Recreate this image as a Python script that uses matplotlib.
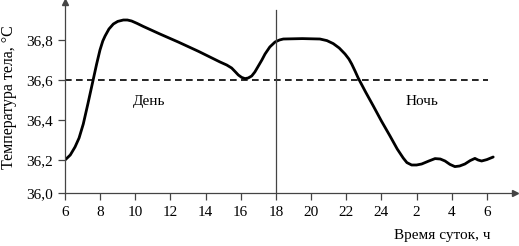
import matplotlib
matplotlib.use('Agg')
import matplotlib.pyplot as plt

# hours counted continuously from 6 am (6 ... 30 = 6 am next day)
hours = [6.0, 6.3, 6.57, 6.8, 7.04, 7.3, 7.6, 7.8, 7.99, 8.15, 8.28, 8.5, 8.75, 9.0,
         9.32, 9.55, 9.79, 10.1, 10.45, 11.4, 12.44, 13.6, 14.82, 15.2, 15.48, 15.7,
         15.86, 16.05, 16.24, 16.42, 16.62, 16.8, 17.0, 17.2, 17.38, 17.65, 17.95,
         18.2, 18.42, 19.5, 20.5, 20.9, 21.26, 21.6, 21.93, 22.15, 22.31, 22.5, 22.68,
         23.1, 23.54, 24.0, 24.49, 24.9, 25.24, 25.45, 25.72, 26.0, 26.29, 26.7, 27.05,
         27.35, 27.62, 27.9, 28.18, 28.45, 28.75, 29.05, 29.32, 29.5, 29.7, 30.0, 30.36]
temps = [36.2, 36.225, 36.265, 36.31, 36.38, 36.48, 36.6, 36.68, 36.75, 36.795, 36.82,
         36.855, 36.88, 36.893, 36.9, 36.9, 36.895, 36.883, 36.868, 36.83, 36.79, 36.743,
         36.69, 36.675, 36.66, 36.64, 36.625, 36.613, 36.607, 36.61, 36.62, 36.64, 36.67,
         36.7, 36.73, 36.765, 36.79, 36.8, 36.805, 36.807, 36.805, 36.797, 36.782, 36.76,
         36.73, 36.705, 36.68, 36.645, 36.61, 36.54, 36.47, 36.395, 36.32, 36.255, 36.21,
         36.187, 36.175, 36.175, 36.18, 36.195, 36.207, 36.205, 36.195, 36.178, 36.167,
         36.17, 36.18, 36.197, 36.208, 36.2, 36.195, 36.202, 36.215]

xticks = [6, 8, 10, 12, 14, 16, 18, 20, 22, 24, 26, 28, 30]
xtick_labels = ['6', '8', '10', '12', '14', '16', '18', '20', '22', '24', '2', '4', '6']
yticks = [36.035, 36.2, 36.4, 36.6, 36.8]
ytick_labels = ['36,0', '36,2', '36,4', '36,6', '36,8']
norm_temp = 36.6
sunset = 18

plt.rcParams['font.family'] = ['Liberation Serif', 'DejaVu Serif']
plt.rcParams['font.size'] = 11

fig = plt.figure(figsize=(5.19, 2.46), dpi=100)
ax = fig.add_axes([65 / 519, 53 / 246, 450 / 519, 191 / 246])

axis_color = '#444444'
ax.plot(hours, temps, color='black', lw=2.0, solid_capstyle='round',
        solid_joinstyle='round')
ax.plot([6, 30.05], [norm_temp, norm_temp], color='black', lw=1.2, dashes=(4, 2.6))
ax.plot([sunset, sunset], [36.035, 36.95], color=axis_color, lw=0.9)

ax.text(10.8, 36.49, 'День', ha='center', va='center', fontsize=11)
ax.text(26.3, 36.49, 'Ночь', ha='center', va='center', fontsize=11)

ax.set_xlim(6, 31.6)
ax.set_ylim(36.035, 36.99)
ax.set_xticks(xticks)
ax.set_xticklabels(xtick_labels)
ax.set_yticks(yticks)
ax.set_yticklabels(ytick_labels)
ax.tick_params(direction='out', length=5, width=0.9, color=axis_color, pad=4)

for side in ['top', 'right']:
    ax.spines[side].set_visible(False)
for side in ['left', 'bottom']:
    ax.spines[side].set_color(axis_color)
    ax.spines[side].set_linewidth(0.9)

# axis arrows
ax.plot(1, 0, '>', color=axis_color, ms=5, transform=ax.transAxes, clip_on=False)
ax.plot(0, 1, '^', color=axis_color, ms=5, transform=ax.transAxes, clip_on=False)

ax.set_ylabel('Температура тела, °С', labelpad=6, fontsize=11.5)
fig.text(442 / 519, 1 - 236 / 246, 'Время суток, ч', ha='center', va='center', fontsize=11)

fig.savefig('out.png', dpi=100)
